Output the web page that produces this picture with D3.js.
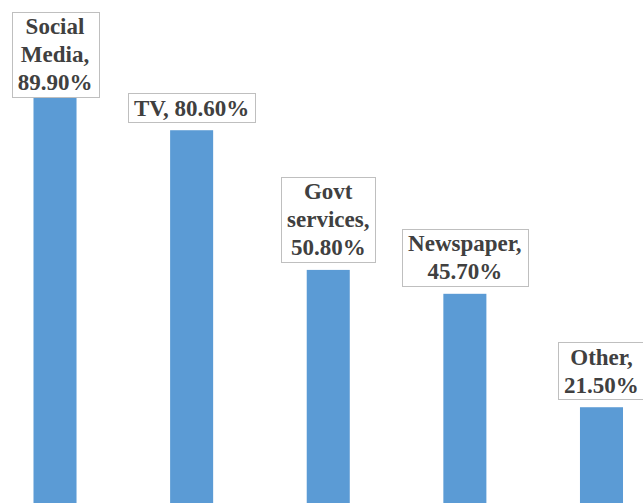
<!DOCTYPE html>
<html>
<head>
<meta charset="utf-8">
<script src="https://cdn.jsdelivr.net/npm/d3@7"></script>
<style>
  html, body { margin: 0; padding: 0; background: #ffffff; }
  svg { display: block; }
</style>
</head>
<body>
<svg id="chart" width="643" height="503"></svg>
<script>
const categories = ["Social Media", "TV", "Govt services", "Newspaper", "Other"];
const values = [89.9, 80.6, 50.8, 45.7, 21.5];
const valueLabels = ["89.90%", "80.60%", "50.80%", "45.70%", "21.50%"];
const labelLines = [
  ["Social", "Media,", "89.90%"],
  ["TV, 80.60%"],
  ["Govt", "services,", "50.80%"],
  ["Newspaper,", "45.70%"],
  ["Other,", "21.50%"]
];

const W = 643, H = 503;
const svg = d3.select("#chart");

const x = d3.scaleBand()
  .domain(categories)
  .range([-13.3, 669.8])
  .paddingInner(0.685)
  .paddingOuter(0.3425);

const y = d3.scaleLinear()
  .domain([0, 100])
  .range([508, 39.3]);

const data = categories.map((c, i) => ({ cat: c, v: values[i], lines: labelLines[i] }));

svg.append("g").selectAll("rect")
  .data(data)
  .join("rect")
  .attr("x", d => x(d.cat))
  .attr("y", d => y(d.v))
  .attr("width", x.bandwidth())
  .attr("height", d => y(0) - y(d.v))
  .attr("fill", "#5B9BD5");

const fontSize = 23, lineH = 28, padX = 6, padY = 0.5, gap = 8, minTop = 12;

const labels = svg.append("g").selectAll("g.lbl")
  .data(data)
  .join("g")
  .attr("class", "lbl");

labels.each(function(d) {
  const g = d3.select(this);
  const cx = x(d.cat) + x.bandwidth() / 2;
  const rect = g.append("rect")
    .attr("fill", "#ffffff")
    .attr("stroke", "#BFBFBF")
    .attr("stroke-width", 1);
  const t = g.append("text")
    .attr("font-family", "'Liberation Serif', 'Times New Roman', serif")
    .attr("font-weight", "bold")
    .attr("font-size", fontSize)
    .attr("fill", "#404040")
    .attr("text-anchor", "middle");
  d.lines.forEach((ln, j) => {
    t.append("tspan").attr("x", cx).attr("dy", j === 0 ? 0 : lineH).text(ln);
  });
  let maxW = 0;
  t.selectAll("tspan").each(function() { maxW = Math.max(maxW, this.getComputedTextLength()); });
  const boxW = maxW + 2 * padX;
  const boxH = d.lines.length * lineH + 2 * padY;
  let top = y(d.v) - gap - boxH;
  if (top < minTop) top = minTop;
  rect.attr("x", Math.round(cx - boxW / 2) + 0.5)
    .attr("y", Math.round(top) + 0.5)
    .attr("width", Math.round(boxW))
    .attr("height", Math.round(boxH));
  t.select("tspan").attr("y", top + padY + lineH * 0.5 + fontSize * 0.34);
});
</script>
</body>
</html>
